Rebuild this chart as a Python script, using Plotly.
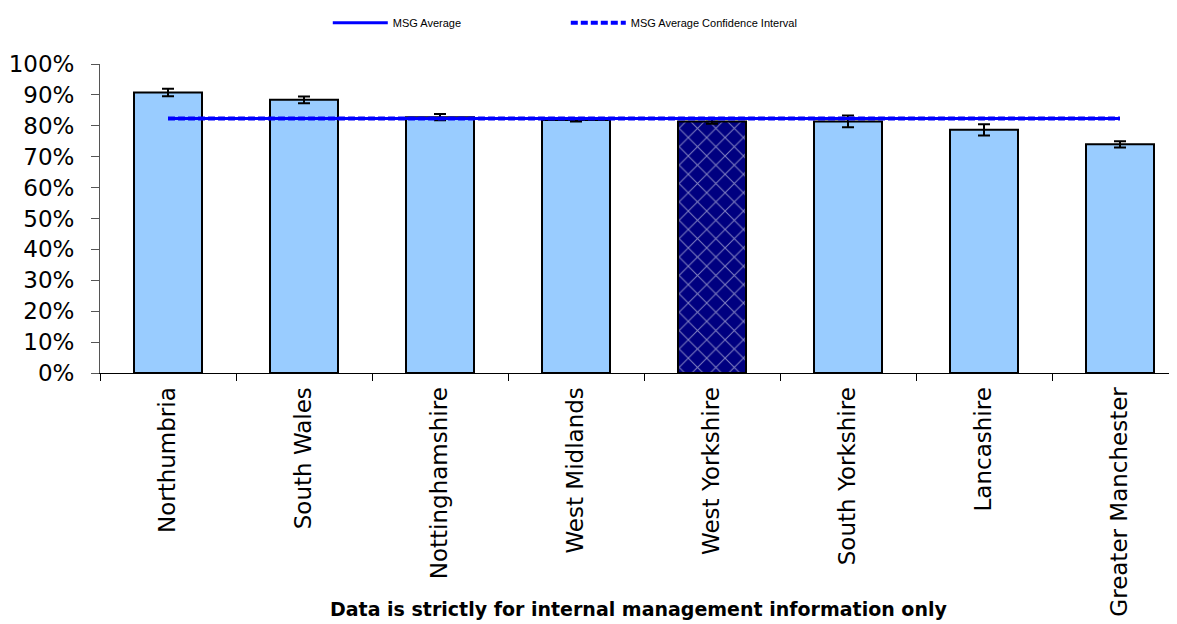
import plotly.graph_objects as go

categories = ["Northumbria", "South Wales", "Nottinghamshire", "West Midlands",
              "West Yorkshire", "South Yorkshire", "Lancashire", "Greater Manchester"]
values = [0.908, 0.884, 0.828, 0.819, 0.814, 0.814, 0.787, 0.740]
errors = [0.012, 0.011, 0.010, 0.005, 0.007, 0.019, 0.018, 0.010]
highlight = "West Yorkshire"
msg_average = 0.824
msg_ci_upper = 0.824
y_ticks = [i / 10 for i in range(11)]
y_tick_labels = [f"{int(round(t * 100))}%" for t in y_ticks]

FONT = "DejaVu Sans, Verdana, sans-serif"
LFONT = "Liberation Sans, Arial, sans-serif"
bar_colors = ["#000080" if c == highlight else "#99CCFF" for c in categories]
shapes = ["x" if c == highlight else "" for c in categories]

fig = go.Figure()
fig.add_trace(go.Bar(
    x=categories, y=values, width=0.5, showlegend=False,
    marker=dict(color=bar_colors, line=dict(color="black", width=2),
                pattern=dict(shape=shapes, fgcolor="#99CCFF",
                             size=13, solidity=0.15, fillmode="overlay")),
    error_y=dict(type="data", array=errors, visible=True, color="black",
                 thickness=2, width=6),
))
fig.add_trace(go.Scatter(
    x=[categories[0], categories[-1]], y=[msg_average, msg_average],
    mode="lines", name="MSG Average",
    line=dict(color="#0000FF", width=3),
))
fig.add_trace(go.Scatter(
    x=[categories[0], categories[-1]], y=[msg_ci_upper, msg_ci_upper],
    mode="lines", name="MSG Average Confidence Interval",
    line=dict(color="#0000FF", width=4, dash="7px,3px"),
))

fig.add_annotation(
    text="<b>Data is strictly for internal management information only</b>",
    xref="paper", yref="paper", x=0.5, y=-0.765, yanchor="middle", showarrow=False,
    font=dict(family=FONT, size=19, color="black"),
)

fig.update_layout(
    width=1169, height=616,
    margin=dict(l=92, r=0, t=50, b=251, pad=0),
    paper_bgcolor="white", plot_bgcolor="white",
    font=dict(family=FONT, color="black"),
    legend=dict(orientation="h", x=0.2115, xanchor="left", y=1.1335, yanchor="middle",
                font=dict(family=LFONT, size=11), entrywidth=168, entrywidthmode="pixels",
                itemwidth=55, bgcolor="rgba(0,0,0,0)"),
    xaxis=dict(type="category", range=[-0.5, -0.5 + 1077 / 136],
               showline=True, linecolor="black", linewidth=1,
               ticks="outside", tickson="boundaries", ticklen=7, tickcolor="black",
               tickangle=-90, tickfont=dict(family=FONT, size=23),
               ticklabelstandoff=4,
               showgrid=False, zeroline=False, automargin=False),
    yaxis=dict(range=[0, 1], tickvals=y_ticks, ticktext=y_tick_labels,
               showline=True, linecolor="#555555", linewidth=1,
               ticks="outside", ticklen=8, tickcolor="#555555",
               tickfont=dict(family=FONT, size=23), ticklabelstandoff=12,
               showgrid=False, zeroline=False, automargin=False),
)

fig.write_html("out.html")
